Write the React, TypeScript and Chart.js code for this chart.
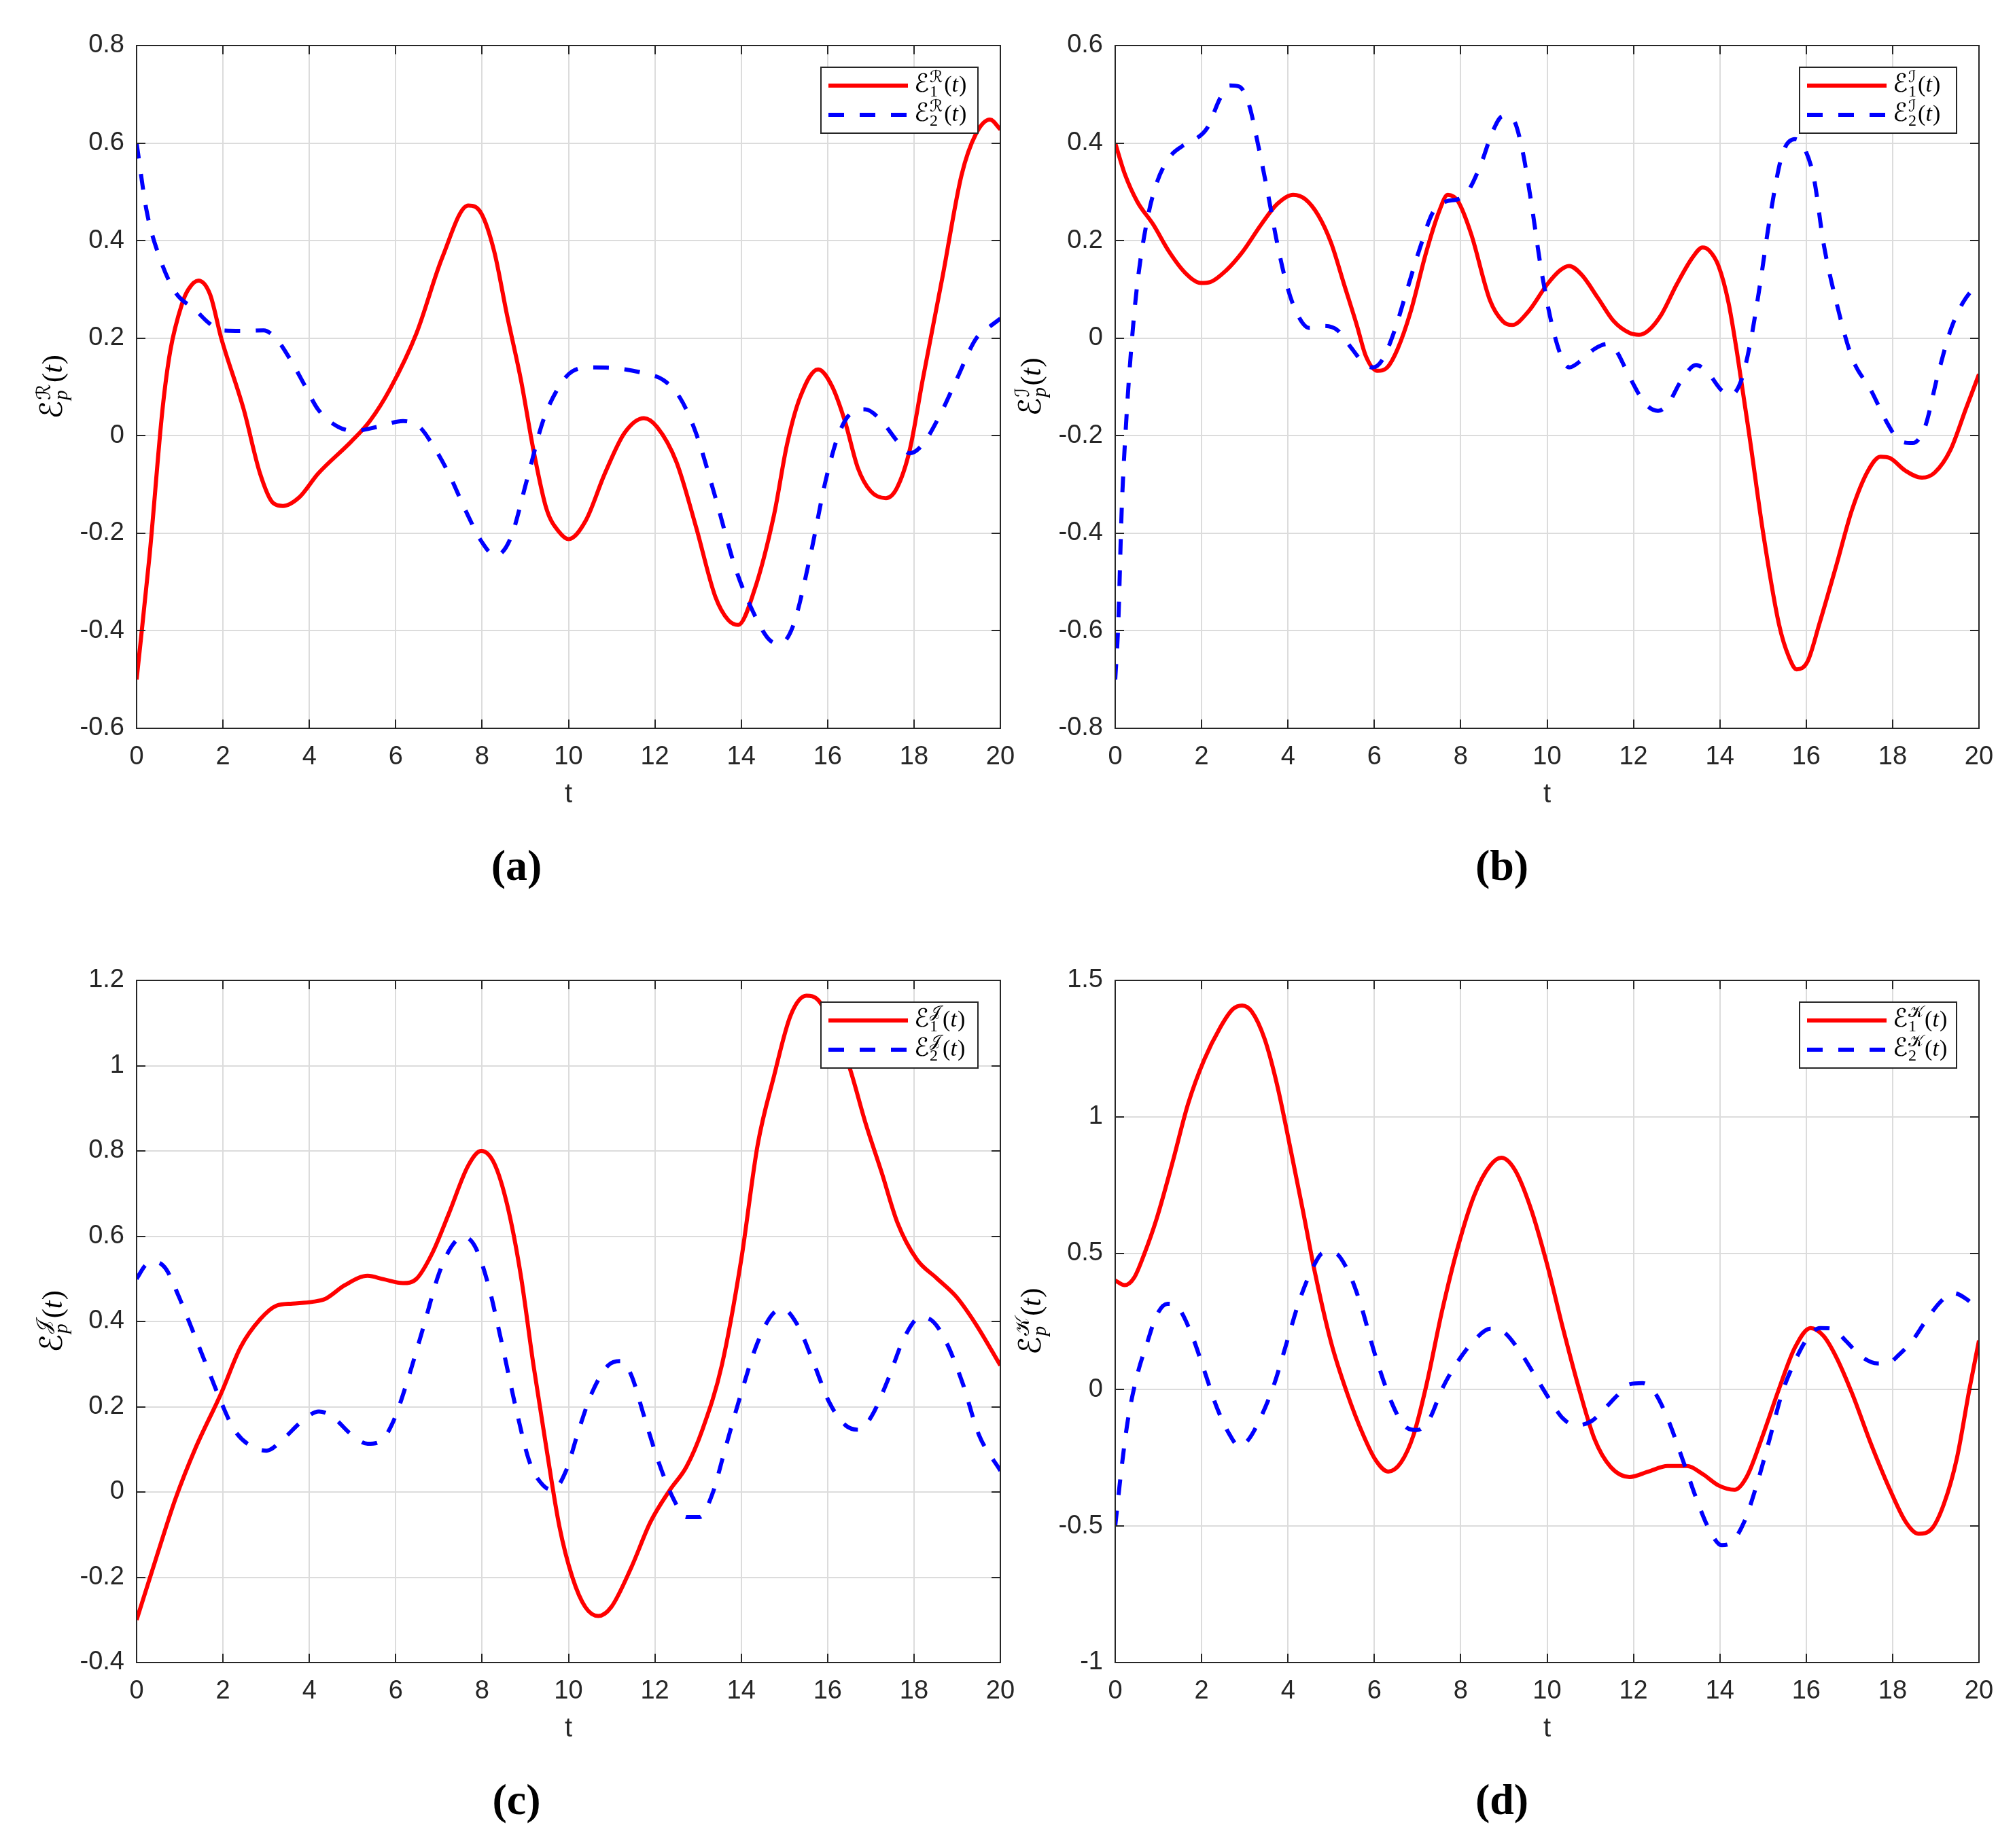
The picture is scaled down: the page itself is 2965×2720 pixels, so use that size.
import { useEffect, useRef } from 'react'
import { Chart, registerables } from 'chart.js'

Chart.register(...registerables)

// ---- panel (a): E^R ----
const tA1 = [0, 0.3, 0.6, 0.78, 1.05, 1.2, 1.43, 1.7, 1.96, 2.48, 2.86, 3.16, 3.39, 3.77, 4.2, 4.97, 5.4, 5.87, 6.48, 7.08, 7.68, 7.98, 8.28, 8.58, 8.9, 9.19, 9.49, 9.79, 10.0, 10.4, 10.84, 11.3, 11.75, 12.05, 12.5, 12.95, 13.4, 13.7, 13.93, 14.3, 14.76, 15.06, 15.36, 15.78, 16.1, 16.4, 16.7, 17.0, 17.35, 17.6, 17.9, 18.2, 18.67, 19.1, 19.43, 19.76, 20]
const eA1 = [-0.5, -0.246, 0.054, 0.174, 0.27, 0.3, 0.318, 0.29, 0.2, 0.054, -0.078, -0.138, -0.144, -0.126, -0.078, -0.012, 0.03, 0.096, 0.21, 0.366, 0.472, 0.456, 0.378, 0.246, 0.114, -0.03, -0.15, -0.198, -0.212, -0.174, -0.078, 0.006, 0.036, 0.018, -0.054, -0.186, -0.33, -0.378, -0.388, -0.318, -0.162, -0.018, 0.078, 0.136, 0.102, 0.03, -0.066, -0.114, -0.128, -0.108, -0.03, 0.114, 0.33, 0.534, 0.618, 0.648, 0.628]
const tA2 = [0, 0.23, 0.53, 0.9, 1.36, 1.66, 1.96, 2.56, 2.94, 3.24, 3.6, 3.9, 4.2, 4.67, 5.05, 5.57, 6.17, 6.55, 6.85, 7.23, 7.6, 7.98, 8.31, 8.66, 9.04, 9.41, 9.79, 10.09, 10.54, 11.14, 11.75, 12.2, 12.58, 12.95, 13.4, 13.86, 14.3, 14.67, 14.9, 15.2, 15.6, 15.96, 16.27, 16.57, 16.87, 17.25, 17.62, 17.9, 18.2, 18.6, 18.98, 19.43, 19.73, 20]
const eA2 = [0.6, 0.462, 0.366, 0.294, 0.258, 0.232, 0.216, 0.215, 0.216, 0.198, 0.15, 0.102, 0.054, 0.018, 0.01, 0.018, 0.03, 0.018, -0.018, -0.078, -0.15, -0.216, -0.246, -0.21, -0.09, 0.03, 0.102, 0.132, 0.14, 0.138, 0.128, 0.114, 0.078, 0.006, -0.126, -0.27, -0.366, -0.42, -0.426, -0.39, -0.246, -0.09, 0.006, 0.048, 0.054, 0.03, -0.012, -0.036, -0.018, 0.042, 0.114, 0.198, 0.222, 0.24]

// ---- panel (b): E^I ----
const tB1 = [0, 0.22, 0.51, 0.88, 1.25, 1.62, 1.99, 2.2, 2.57, 2.94, 3.38, 3.75, 4.12, 4.4, 4.7, 5.0, 5.3, 5.6, 5.8, 6.07, 6.3, 6.54, 6.84, 7.2, 7.5, 7.7, 7.94, 8.24, 8.68, 8.97, 9.19, 9.56, 10.0, 10.3, 10.51, 10.8, 11.18, 11.54, 11.9, 12.13, 12.35, 12.65, 13.0, 13.38, 13.6, 13.75, 13.97, 14.2, 14.4, 14.7, 15.0, 15.37, 15.6, 15.78, 16.03, 16.3, 16.7, 17.06, 17.43, 17.72, 17.94, 18.3, 18.68, 18.97, 19.34, 19.7, 20]
const eB1 = [0.4, 0.337, 0.28, 0.233, 0.177, 0.134, 0.113, 0.115, 0.139, 0.176, 0.233, 0.275, 0.294, 0.285, 0.252, 0.195, 0.11, 0.025, -0.036, -0.067, -0.06, -0.022, 0.054, 0.176, 0.26, 0.294, 0.28, 0.214, 0.077, 0.035, 0.027, 0.054, 0.11, 0.139, 0.148, 0.13, 0.082, 0.035, 0.011, 0.007, 0.016, 0.049, 0.11, 0.167, 0.186, 0.18, 0.148, 0.073, -0.031, -0.21, -0.398, -0.587, -0.654, -0.679, -0.663, -0.587, -0.465, -0.352, -0.272, -0.243, -0.246, -0.272, -0.286, -0.276, -0.229, -0.144, -0.074]
const tB2 = [0, 0.07, 0.15, 0.26, 0.37, 0.51, 0.74, 0.96, 1.25, 1.54, 1.84, 2.13, 2.43, 2.65, 2.87, 3.1, 3.3, 3.53, 3.75, 3.97, 4.19, 4.49, 4.85, 5.15, 5.44, 5.74, 5.96, 6.18, 6.47, 6.76, 7.06, 7.35, 7.65, 7.94, 8.16, 8.46, 8.75, 8.97, 9.2, 9.41, 9.63, 9.85, 10.07, 10.3, 10.51, 10.8, 11.1, 11.4, 11.6, 11.9, 12.28, 12.57, 12.8, 13.1, 13.45, 13.75, 14.04, 14.26, 14.49, 14.7, 14.93, 15.15, 15.44, 15.74, 15.96, 16.18, 16.4, 16.7, 17.06, 17.5, 17.87, 18.16, 18.46, 18.75, 19.04, 19.34, 19.63, 20]
const eB2 = [-0.7, -0.587, -0.352, -0.163, -0.022, 0.11, 0.242, 0.318, 0.37, 0.393, 0.407, 0.431, 0.492, 0.518, 0.516, 0.478, 0.4, 0.299, 0.195, 0.11, 0.054, 0.021, 0.025, 0.016, -0.017, -0.05, -0.06, -0.045, 0.016, 0.1, 0.186, 0.257, 0.28, 0.285, 0.3, 0.355, 0.426, 0.455, 0.45, 0.393, 0.28, 0.148, 0.044, -0.031, -0.06, -0.045, -0.022, -0.012, -0.026, -0.078, -0.135, -0.149, -0.135, -0.088, -0.055, -0.074, -0.107, -0.116, -0.088, -0.012, 0.11, 0.242, 0.375, 0.408, 0.389, 0.327, 0.195, 0.073, -0.04, -0.107, -0.173, -0.21, -0.215, -0.182, -0.078, 0.016, 0.073, 0.115]

// ---- panel (c): E^J ----
const tC1 = [0, 0.45, 0.9, 1.36, 1.96, 2.41, 2.86, 3.24, 3.61, 4.07, 4.37, 4.82, 5.35, 5.72, 6.17, 6.48, 6.85, 7.23, 7.68, 7.98, 8.28, 8.58, 8.89, 9.19, 9.49, 9.79, 10.09, 10.39, 10.69, 10.99, 11.45, 11.9, 12.35, 12.73, 13.1, 13.55, 14.0, 14.38, 14.76, 15.14, 15.51, 15.78, 16.11, 16.5, 16.87, 17.25, 17.62, 18.07, 18.52, 18.98, 19.43, 20]
const eC1 = [-0.3, -0.156, -0.016, 0.102, 0.232, 0.34, 0.405, 0.437, 0.442, 0.446, 0.453, 0.485, 0.507, 0.499, 0.49, 0.5, 0.561, 0.653, 0.766, 0.8, 0.771, 0.674, 0.512, 0.297, 0.102, -0.081, -0.2, -0.27, -0.291, -0.27, -0.178, -0.07, 0.005, 0.059, 0.146, 0.297, 0.545, 0.814, 0.976, 1.117, 1.164, 1.154, 1.095, 0.998, 0.868, 0.75, 0.631, 0.545, 0.502, 0.458, 0.394, 0.297]
const tC2 = [0, 0.23, 0.45, 0.68, 0.98, 1.28, 1.66, 1.96, 2.26, 2.64, 3.01, 3.39, 3.84, 4.22, 4.52, 4.97, 5.35, 5.65, 5.95, 6.25, 6.63, 7.0, 7.3, 7.56, 7.83, 8.13, 8.43, 8.8, 9.1, 9.41, 9.64, 9.94, 10.24, 10.54, 10.92, 11.22, 11.45, 11.75, 12.05, 12.43, 12.73, 13.03, 13.33, 13.63, 14.0, 14.38, 14.76, 14.98, 15.29, 15.66, 16.04, 16.42, 16.72, 17.02, 17.4, 17.77, 18.15, 18.45, 18.75, 19.13, 19.5, 20]
const eC2 = [0.5, 0.534, 0.539, 0.523, 0.458, 0.383, 0.286, 0.21, 0.146, 0.108, 0.097, 0.124, 0.167, 0.189, 0.178, 0.135, 0.113, 0.119, 0.167, 0.254, 0.383, 0.512, 0.577, 0.599, 0.577, 0.491, 0.361, 0.189, 0.07, 0.016, 0.005, 0.049, 0.146, 0.232, 0.297, 0.307, 0.275, 0.178, 0.081, -0.016, -0.059, -0.059, -0.005, 0.102, 0.232, 0.351, 0.421, 0.428, 0.394, 0.307, 0.21, 0.156, 0.146, 0.178, 0.264, 0.361, 0.41, 0.399, 0.351, 0.254, 0.135, 0.05]

// ---- panel (d): E^K ----
const tD1 = [0, 0.22, 0.44, 0.66, 0.96, 1.32, 1.69, 2.06, 2.43, 2.72, 2.94, 3.16, 3.46, 3.75, 4.04, 4.34, 4.63, 5.0, 5.37, 5.74, 6.03, 6.32, 6.62, 6.91, 7.21, 7.57, 7.94, 8.31, 8.68, 8.94, 9.26, 9.63, 10.0, 10.37, 10.74, 11.1, 11.47, 11.91, 12.35, 12.79, 13.24, 13.6, 13.97, 14.34, 14.63, 15.0, 15.37, 15.74, 16.1, 16.4, 16.69, 17.06, 17.5, 17.94, 18.31, 18.6, 18.9, 19.19, 19.49, 19.78, 20]
const eD1 = [0.4, 0.383, 0.411, 0.492, 0.627, 0.829, 1.049, 1.209, 1.327, 1.394, 1.408, 1.386, 1.285, 1.116, 0.897, 0.661, 0.425, 0.172, -0.013, -0.165, -0.258, -0.3, -0.266, -0.165, 0.02, 0.29, 0.526, 0.711, 0.821, 0.85, 0.804, 0.661, 0.459, 0.223, 0.003, -0.182, -0.283, -0.32, -0.3, -0.28, -0.28, -0.309, -0.351, -0.367, -0.317, -0.165, 0.003, 0.155, 0.226, 0.197, 0.121, -0.013, -0.199, -0.367, -0.486, -0.528, -0.511, -0.418, -0.25, 0.003, 0.18]
const tD2 = [0, 0.15, 0.29, 0.51, 0.74, 0.96, 1.21, 1.47, 1.76, 2.06, 2.35, 2.65, 2.87, 3.09, 3.38, 3.68, 3.97, 4.26, 4.56, 4.82, 5.07, 5.37, 5.66, 6.03, 6.4, 6.69, 6.99, 7.28, 7.57, 7.94, 8.31, 8.68, 8.97, 9.34, 9.71, 10.07, 10.37, 10.66, 11.03, 11.32, 11.62, 11.91, 12.21, 12.5, 12.79, 13.16, 13.46, 13.75, 14.04, 14.26, 14.56, 14.85, 15.15, 15.44, 15.74, 16.03, 16.32, 16.62, 16.91, 17.28, 17.65, 17.87, 18.16, 18.46, 18.75, 19.12, 19.41, 19.71, 20]
const eD2 = [-0.5, -0.283, -0.115, 0.054, 0.172, 0.273, 0.315, 0.298, 0.206, 0.071, -0.064, -0.165, -0.207, -0.182, -0.098, 0.02, 0.172, 0.324, 0.442, 0.501, 0.501, 0.442, 0.324, 0.121, -0.047, -0.131, -0.148, -0.106, 0.003, 0.105, 0.18, 0.223, 0.214, 0.147, 0.054, -0.039, -0.106, -0.131, -0.115, -0.072, -0.022, 0.02, 0.024, -0.013, -0.106, -0.266, -0.401, -0.511, -0.57, -0.561, -0.486, -0.351, -0.182, -0.013, 0.105, 0.189, 0.226, 0.223, 0.18, 0.121, 0.096, 0.096, 0.13, 0.18, 0.248, 0.324, 0.354, 0.332, 0.29]

const AXIS = '#262626'
const GRID = '#dcdcdc'
const SANS = '"Liberation Sans", Arial, Helvetica, sans-serif'
const SCRIPT = '"DejaVu Serif", "DejaVu Sans", serif'
const SERIF = '"Liberation Serif", "Times New Roman", serif'
const LINE_W = 6
const DASH = [23, 23]

interface PanelDef {
  tag: string
  sup: string
  t1: number[]; e1: number[]; t2: number[]; e2: number[]
  yMin: number; yMax: number; yStep: number
  // plot box in page pixels
  left: number; right: number; top: number; bottom: number
  // canvas rect in page pixels
  cx: number; cy: number; cw: number; ch: number
  labelX: number; labelY: number
}

const PANELS: PanelDef[] = [
  { tag: '(a)', sup: 'ℛ', t1: tA1, e1: eA1, t2: tA2, e2: eA2, yMin: -0.6, yMax: 0.8, yStep: 0.2,
    left: 201, right: 1472, top: 67, bottom: 1072, cx: 0, cy: 0, cw: 1560, ch: 1380, labelX: 760, labelY: 1295 },
  { tag: '(b)', sup: 'ℐ', t1: tB1, e1: eB1, t2: tB2, e2: eB2, yMin: -0.8, yMax: 0.6, yStep: 0.2,
    left: 1641, right: 2912, top: 67, bottom: 1072, cx: 1480, cy: 0, cw: 1485, ch: 1380, labelX: 2210, labelY: 1295 },
  { tag: '(c)', sup: '𝒥', t1: tC1, e1: eC1, t2: tC2, e2: eC2, yMin: -0.4, yMax: 1.2, yStep: 0.2,
    left: 201, right: 1472, top: 1443, bottom: 2447, cx: 0, cy: 1375, cw: 1560, ch: 1345, labelX: 760, labelY: 2670 },
  { tag: '(d)', sup: '𝒦', t1: tD1, e1: eD1, t2: tD2, e2: eD2, yMin: -1, yMax: 1.5, yStep: 0.5,
    left: 1641, right: 2912, top: 1443, bottom: 2447, cx: 1480, cy: 1375, cw: 1485, ch: 1345, labelX: 2210, labelY: 2670 },
]

const Y_AXIS_W = 120
const X_AXIS_H = 140

function pts(t: number[], e: number[]) {
  const n = Math.min(t.length, e.length)
  const out: { x: number; y: number }[] = []
  for (let i = 0; i < n; i++) out.push({ x: t[i], y: e[i] })
  return out
}

// draws  E_sub^sup(t)  starting at x, baseline y; returns width
function drawMath(ctx: CanvasRenderingContext2D, x: number, y: number, size: number, sup: string, sub: string, subItalic: boolean, draw: boolean) {
  let cx = x
  ctx.textAlign = 'left'
  ctx.textBaseline = 'alphabetic'
  ctx.font = `${Math.round(size * 1.08)}px ${SCRIPT}`
  if (draw) ctx.fillText('ℰ', cx, y)
  cx += ctx.measureText('ℰ').width + size * 0.02
  const small = Math.round(size * 0.7)
  ctx.font = `${small}px ${SCRIPT}`
  const wSup = ctx.measureText(sup).width
  if (draw) ctx.fillText(sup, cx, y - size * 0.4)
  ctx.font = `${subItalic ? 'italic ' : ''}${small}px ${SERIF}`
  const wSub = ctx.measureText(sub).width
  if (draw) ctx.fillText(sub, cx, y + size * 0.2)
  cx += Math.max(wSup, wSub) + size * 0.06
  ctx.font = `${size}px ${SERIF}`
  if (draw) ctx.fillText('(', cx, y)
  cx += ctx.measureText('(').width
  ctx.font = `italic ${size}px ${SERIF}`
  if (draw) ctx.fillText('t', cx, y)
  cx += ctx.measureText('t').width + size * 0.03
  ctx.font = `${size}px ${SERIF}`
  if (draw) ctx.fillText(')', cx, y)
  cx += ctx.measureText(')').width
  return cx - x
}

function makeDecor(p: PanelDef) {
  return {
    id: 'decor' + p.tag,
    afterDraw(chart: Chart) {
      const { ctx, chartArea: a } = chart
      const xs = chart.scales.x
      const ys = chart.scales.y
      ctx.save()
      // inward ticks on all four sides, then the box
      ctx.strokeStyle = AXIS
      ctx.lineWidth = 2
      const tl = 13
      ctx.beginPath()
      for (const tk of xs.ticks) {
        const px = Math.round(xs.getPixelForValue(tk.value))
        ctx.moveTo(px, a.bottom); ctx.lineTo(px, a.bottom - tl)
        ctx.moveTo(px, a.top); ctx.lineTo(px, a.top + tl)
      }
      for (const tk of ys.ticks) {
        const py = Math.round(ys.getPixelForValue(tk.value))
        ctx.moveTo(a.left, py); ctx.lineTo(a.left + tl, py)
        ctx.moveTo(a.right, py); ctx.lineTo(a.right - tl, py)
      }
      ctx.stroke()
      ctx.strokeRect(a.left, a.top, a.right - a.left, a.bottom - a.top)

      // legend
      const bw = 231, bh = 97
      const bx = a.right - 33 - bw
      const by = a.top + 32
      ctx.fillStyle = '#ffffff'
      ctx.fillRect(bx, by, bw, bh)
      ctx.strokeStyle = AXIS
      ctx.lineWidth = 2
      ctx.strokeRect(bx, by, bw, bh)
      const rows = [
        { color: '#ff0000', dash: [] as number[], sub: '1', y: by + 27 },
        { color: '#0000ff', dash: DASH, sub: '2', y: by + 70 },
      ]
      for (const r of rows) {
        ctx.strokeStyle = r.color
        ctx.lineWidth = LINE_W
        ctx.setLineDash(r.dash)
        ctx.beginPath()
        ctx.moveTo(bx + 11, r.y)
        ctx.lineTo(bx + 128, r.y)
        ctx.stroke()
        ctx.setLineDash([])
        ctx.fillStyle = '#000000'
        drawMath(ctx, bx + 137, r.y + 9, 34, p.sup, r.sub, false, true)
      }

      // y axis label (rotated)
      const size = 42
      const w = drawMath(ctx, 0, 0, size, p.sup, 'p', true, false)
      ctx.save()
      ctx.translate(a.left - 123, (a.top + a.bottom) / 2)
      ctx.rotate(-Math.PI / 2)
      ctx.fillStyle = '#000000'
      drawMath(ctx, -w / 2, size * 0.3, size, p.sup, 'p', true, true)
      ctx.restore()

      // sub-figure tag
      ctx.fillStyle = '#000000'
      ctx.font = `bold 64px ${SERIF}`
      ctx.textAlign = 'center'
      ctx.textBaseline = 'alphabetic'
      ctx.fillText(p.tag, p.labelX - p.cx, p.labelY - p.cy)
      ctx.restore()
    },
  }
}

function Panel({ p }: { p: PanelDef }) {
  const ref = useRef<HTMLCanvasElement>(null)

  useEffect(() => {
    if (!ref.current) return
    const tickFont = { family: SANS, size: 38 }
    const chart = new Chart(ref.current, {
      type: 'line',
      data: {
        datasets: [
          {
            data: pts(p.t1, p.e1),
            borderColor: '#ff0000',
            borderWidth: LINE_W,
            pointRadius: 0,
            cubicInterpolationMode: 'monotone',
            fill: false,
            order: 1,
          },
          {
            data: pts(p.t2, p.e2),
            borderColor: '#0000ff',
            borderWidth: LINE_W,
            borderDash: DASH,
            pointRadius: 0,
            cubicInterpolationMode: 'monotone',
            fill: false,
            order: 0,
          },
        ],
      },
      options: {
        responsive: false,
        animation: false,
        devicePixelRatio: 1,
        layout: {
          padding: {
            left: p.left - p.cx - Y_AXIS_W,
            top: p.top - p.cy,
            right: p.cx + p.cw - p.right,
            bottom: p.cy + p.ch - p.bottom - X_AXIS_H,
          },
        },
        plugins: { legend: { display: false }, tooltip: { enabled: false } },
        scales: {
          x: {
            type: 'linear',
            min: 0,
            max: 20,
            ticks: { stepSize: 2, autoSkip: false, maxRotation: 0, padding: 20, font: tickFont, color: AXIS },
            grid: { color: GRID, lineWidth: 2, drawTicks: false },
            border: { display: false },
            title: { display: true, text: 't', color: AXIS, font: { family: SANS, size: 40 }, padding: { top: 0, bottom: 18 } },
            afterFit: (s: any) => { s.height = X_AXIS_H },
          },
          y: {
            type: 'linear',
            min: p.yMin,
            max: p.yMax,
            ticks: {
              stepSize: p.yStep,
              autoSkip: false,
              padding: 18,
              font: tickFont,
              color: AXIS,
              callback: (v: any) => String(+Number(v).toFixed(2)),
            },
            grid: { color: GRID, lineWidth: 2, drawTicks: false },
            border: { display: false },
            afterFit: (s: any) => { s.width = Y_AXIS_W },
          },
        },
      },
      plugins: [makeDecor(p)],
    })
    return () => chart.destroy()
  }, [p])

  return (
    <canvas
      ref={ref}
      width={p.cw}
      height={p.ch}
      style={{ position: 'absolute', left: p.cx, top: p.cy, width: p.cw, height: p.ch }}
    />
  )
}

export default function App() {
  return (
    <div style={{ position: 'fixed', left: 0, top: 0, width: 2965, height: 2720, background: '#ffffff', overflow: 'hidden' }}>
      {PANELS.map(p => <Panel key={p.tag} p={p} />)}
    </div>
  )
}
